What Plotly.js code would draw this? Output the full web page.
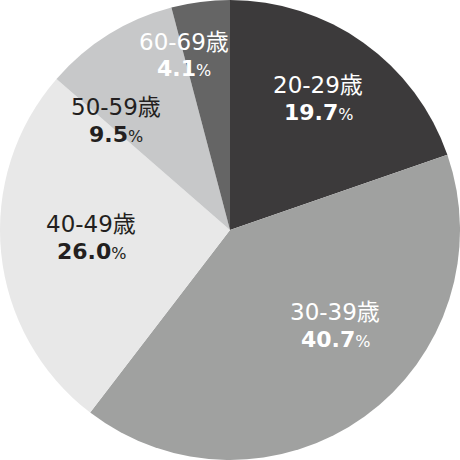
<!DOCTYPE html>
<html>
<head>
<meta charset="utf-8">
<script src="https://cdn.plot.ly/plotly-3.0.1.min.js"></script>
<style>
  html, body { margin: 0; padding: 0; background: #fff; }
  #chart { width: 460px; height: 460px; }
</style>
</head>
<body>
<div id="chart"></div>
<script>
// age groups and share of respondents (%)
const ageGroups = ["20-29歳", "30-39歳", "40-49歳", "50-59歳", "60-69歳"];
const shares = [19.7, 40.7, 26.0, 9.5, 4.1];

const sliceColors = ["#3c3a3b", "#a0a1a0", "#e8e8e8", "#c7c8c9", "#656565"];
const textColors = ["#ffffff", "#ffffff", "#231f20", "#231f20", "#ffffff"];
// label block centres in pixels, hand placed like the original
const labelCenters = [[318, 98], [335, 325], [91, 237], [116, 120], [184, 55]];

const W = 460;
const H = 460;
const fontFamily = "'DejaVu Sans', 'Noto Sans CJK JP', sans-serif";

const annotations = [];
ageGroups.forEach((group, i) => {
  const [cx, cy] = labelCenters[i];
  const base = {
    x: cx / W,
    y: 1 - cy / H,
    xref: "paper",
    yref: "paper",
    xanchor: "center",
    yanchor: "middle",
    showarrow: false,
  };
  annotations.push({
    ...base,
    text: group,
    yshift: 13,
    font: { family: fontFamily, stretch: "condensed", size: 23, color: textColors[i] },
  });
  annotations.push({
    ...base,
    text: `<b>${shares[i].toFixed(1)}</b><span style="font-size:16px">%</span>`,
    yshift: -14,
    font: { family: fontFamily, stretch: "condensed", size: 22, color: textColors[i] },
  });
});

const data = [
  {
    type: "pie",
    labels: ageGroups,
    values: shares,
    sort: false,
    direction: "clockwise",
    rotation: 0,
    textinfo: "none",
    hoverinfo: "none",
    marker: { colors: sliceColors, line: { width: 0 } },
    domain: { x: [0, 1], y: [0, 1] },
  },
];

const layout = {
  width: W,
  height: H,
  margin: { l: 0, r: 0, t: 0, b: 0 },
  paper_bgcolor: "#ffffff",
  showlegend: false,
  annotations,
};

Plotly.newPlot("chart", data, layout, { displayModeBar: false, staticPlot: true });
</script>
</body>
</html>
